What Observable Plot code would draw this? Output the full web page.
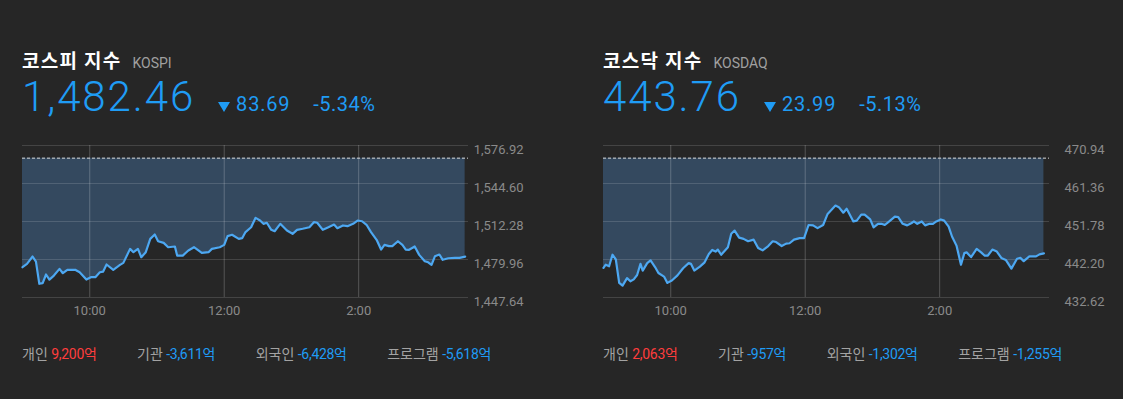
<!DOCTYPE html>
<html><head><meta charset="utf-8">
<script src="https://cdn.jsdelivr.net/npm/d3@7"></script>
<script src="https://cdn.jsdelivr.net/npm/@observablehq/plot@0.6"></script>
<style>
html,body{margin:0;padding:0;background:#262626;}
body{width:1123px;height:399px;position:relative;overflow:hidden;font-family:Roboto,"Noto Sans CJK KR",sans-serif;}
.abs{position:absolute;white-space:nowrap;line-height:1;}
.title{font-family:"Noto Sans CJK KR",sans-serif;font-weight:700;font-size:19px;color:#fff;letter-spacing:1.3px;}
.code{font-family:Roboto,sans-serif;font-size:14px;color:#a0a0a0;}
.row{display:flex;align-items:baseline;color:#1f9cf5;font-family:Roboto,sans-serif;}
.big{font-size:42px;font-weight:300;letter-spacing:1.9px;}
.tri{width:0;height:0;border-left:6.5px solid transparent;border-right:6.5px solid transparent;border-top:10px solid #1f9cf5;margin-left:23px;margin-right:6px;align-self:flex-end;margin-bottom:6px;}
.chg{font-size:20px;letter-spacing:0.8px;}
.pct{font-size:20px;letter-spacing:0.5px;margin-left:23px;}
.foot{display:flex;font-family:Roboto,"Noto Sans CJK KR",sans-serif;font-size:14px;line-height:1;}
.foot .it{margin-right:40.5px;color:#a3a3a3;white-space:nowrap;}
.up{color:#ff3d3d;letter-spacing:-0.3px;}
.dn{color:#1f9cf5;letter-spacing:-0.3px;}
</style></head>
<body>
<script>
// ---- data ----
const xTickTimes = ["10:00", "12:00", "14:00"];
const xTickLabels = ["10:00", "12:00", "2:00"];

const kospiName = "코스피 지수", kospiCode = "KOSPI";
const kospiClose = 1482.46, kospiChange = 83.69, kospiPct = -5.34;
const kospiTicks = [1447.64, 1479.96, 1512.28, 1544.60, 1576.92];
// minutes after 09:00
const kospiMinutes = [0,4,9,12,15,18,21,24,28,33,36,40,47,51,57,61,65,69,72,75,81,87,90,96,99,103,106,110,114,118,121,126,130,136,138,143,148,153,160,166,169,176,180,183,187,193,196,199,204,208,212,215,218,222,225,230,236,241,245,250,256,260,263,268,273,278,281,286,290,295,299,303,307,311,316,320,323,327,330,335,339,342,345,350,354,359,362,365,368,372,375,380,386,390,395];
const kospiValues = [1473.4,1476.3,1482.5,1478.2,1459.3,1459.8,1467.2,1462.9,1466.3,1472.0,1468.3,1471.2,1471.2,1469.1,1462.9,1464.9,1464.9,1469.1,1469.7,1475.7,1471.2,1475.4,1477.1,1489.0,1486.2,1489.0,1481.9,1486.2,1497.5,1501.2,1495.5,1494.1,1490.4,1491.0,1483.3,1483.3,1487.6,1490.4,1485.6,1486.2,1489.0,1490.4,1492.4,1499.8,1501.0,1497.5,1498.1,1503.3,1507.4,1515.4,1513.1,1510.3,1511.2,1505.2,1504.0,1510.3,1504.6,1501.8,1505.2,1506.1,1507.4,1511.7,1511.2,1505.2,1507.4,1509.7,1506.6,1508.9,1508.3,1510.3,1513.1,1512.5,1509.5,1503.2,1496.7,1488.4,1492.4,1491.3,1491.3,1495.5,1492.4,1488.4,1488.2,1491.0,1483.9,1478.5,1477.6,1475.4,1482.7,1484.2,1479.7,1481.0,1481.4,1481.4,1482.46];
const kospiFlowLabels = ["개인", "기관", "외국인", "프로그램"];
const kospiFlowValues = [9200, -3611, -6428, -5618];

const kosdaqName = "코스닥 지수", kosdaqCode = "KOSDAQ";
const kosdaqClose = 443.76, kosdaqChange = 23.99, kosdaqPct = -5.13;
const kosdaqTicks = [432.62, 442.20, 451.78, 461.36, 470.94];
const kosdaqMinutes = [0,2,5,8,11,14,17,21,24,27,30,33,35,39,42,46,49,54,57,61,66,71,76,78,81,86,90,94,97,100,102,105,111,114,117,121,125,129,134,138,142,147,151,154,159,163,166,170,175,179,183,187,191,196,200,207,210,214,217,223,226,230,233,238,241,245,248,251,255,260,263,267,271,275,277,280,284,287,291,294,297,301,304,308,311,315,319,322,324,328,333,337,340,343,347,351,355,359,364,369,372,375,380,386,389,393];
const kosdaqValues = [440.1,440.9,440.5,443.4,442.2,436.3,435.6,437.5,436.7,437.2,438.3,441.1,439.4,441.3,442.0,440.3,438.8,437.9,436.3,436.9,438.2,440.0,441.3,441.1,439.4,440.4,441.4,443.6,444.6,444.2,444.7,443.4,445.3,448.7,449.5,447.7,447.4,446.8,447.2,445.1,444.5,445.6,446.8,446.6,445.6,446.2,446.3,447.2,447.6,447.6,450.9,450.8,450.1,450.9,453.7,455.8,455.4,454.0,455.0,451.8,452.0,453.5,453.5,452.3,450.3,451.2,451.2,450.9,451.8,453.0,452.9,451.2,450.8,451.4,451.8,451.2,451.8,450.8,451.2,451.2,451.8,452.3,452.0,450.5,448.0,445.7,440.9,443.8,444.0,442.8,444.9,444.0,443.2,443.2,444.7,444.2,442.6,442.1,439.9,442.4,442.6,441.8,443.0,443.0,443.5,443.76];
const kosdaqFlowLabels = ["개인", "기관", "외국인", "프로그램"];
const kosdaqFlowValues = [2063, -957, -1302, -1255];

// ---- helpers ----
const toMin = s => { const [h, m] = s.split(":").map(Number); return (h - 9) * 60 + m; };
const xTicks = xTickTimes.map(toMin);
const xLabelOf = new Map(xTicks.map((t, i) => [t, xTickLabels[i]]));
const locale = d3.formatLocale({decimal: ".", thousands: ",", grouping: [3], currency: ["", ""], minus: "-"});
const fmt2 = locale.format(",.2f");
const fmtInt = locale.format(",");

function el(tag, cls, text, parent) {
  const e = document.createElement(tag);
  if (cls) e.className = cls;
  if (text != null) e.textContent = text;
  (parent || document.body).appendChild(e);
  return e;
}

function panel(x0, name, code, close, change, pct, ticks, minutes, values, flowLabels, flowValues) {
  const t = el("div", "abs title", name); t.style.left = x0 + "px"; t.style.top = "49.5px";
  const c = el("div", "abs code", code); c.style.left = (x0 + 110.5) + "px"; c.style.top = "56px";
  const row = el("div", "abs row"); row.style.left = x0 + "px"; row.style.top = "75.6px";
  el("span", "big", fmt2(close), row);
  el("span", "tri", null, row);
  el("span", "chg", change.toFixed(2), row);
  el("span", "pct", pct.toFixed(2) + "%", row);

  const prev = close + change;
  const data = minutes.map((m, i) => ({t: m, v: values[i]}));
  const chart = Plot.plot({
    width: 510, height: 190,
    marginTop: 10, marginBottom: 28, marginLeft: 0, marginRight: 64,
    style: {background: "transparent", fontFamily: "Roboto, sans-serif", fontSize: "13px", color: "#8a8a8a", overflow: "visible"},
    x: {type: "linear", domain: [0, 398], label: null},
    y: {domain: [ticks[0], ticks[ticks.length - 1]], label: null},
    marks: [
      Plot.areaY(data, {x: "t", y1: "v", y2: () => prev, fill: "#34495f", curve: "linear"}),
      Plot.ruleY(ticks, {stroke: "#ffffff", strokeOpacity: 0.14}),
      Plot.ruleX(xTicks, {stroke: "#ffffff", strokeOpacity: 0.22}),
      Plot.ruleY([prev], {stroke: "#d8d8d8", strokeDasharray: "3,2", strokeWidth: 1}),
      Plot.line(data, {x: "t", y: "v", stroke: "#4da8f2", strokeWidth: 2.2, strokeLinejoin: "round"}),
      Plot.axisY(ticks, {anchor: "right", label: null, tickSize: 0, tickPadding: 55, textAnchor: "end", dy: 4, tickFormat: fmt2, fill: "#8a8a8a"}),
      Plot.axisX(xTicks, {anchor: "bottom", label: null, tickSize: 0, tickPadding: 8, tickFormat: d => xLabelOf.get(d), fill: "#8a8a8a"})
    ]
  });
  const holder = el("div", "abs"); holder.style.left = x0 + "px"; holder.style.top = "135px";
  holder.appendChild(chart);

  const foot = el("div", "abs foot"); foot.style.left = x0 + "px"; foot.style.top = "347px";
  flowLabels.forEach((lab, i) => {
    const it = el("span", "it", lab + " ", foot);
    const v = flowValues[i];
    el("span", v >= 0 ? "up" : "dn", fmtInt(v) + "억", it);
  });
}

panel(22, kospiName, kospiCode, kospiClose, kospiChange, kospiPct, kospiTicks, kospiMinutes, kospiValues, kospiFlowLabels, kospiFlowValues);
panel(603, kosdaqName, kosdaqCode, kosdaqClose, kosdaqChange, kosdaqPct, kosdaqTicks, kosdaqMinutes, kosdaqValues, kosdaqFlowLabels, kosdaqFlowValues);
</script>
</body></html>
